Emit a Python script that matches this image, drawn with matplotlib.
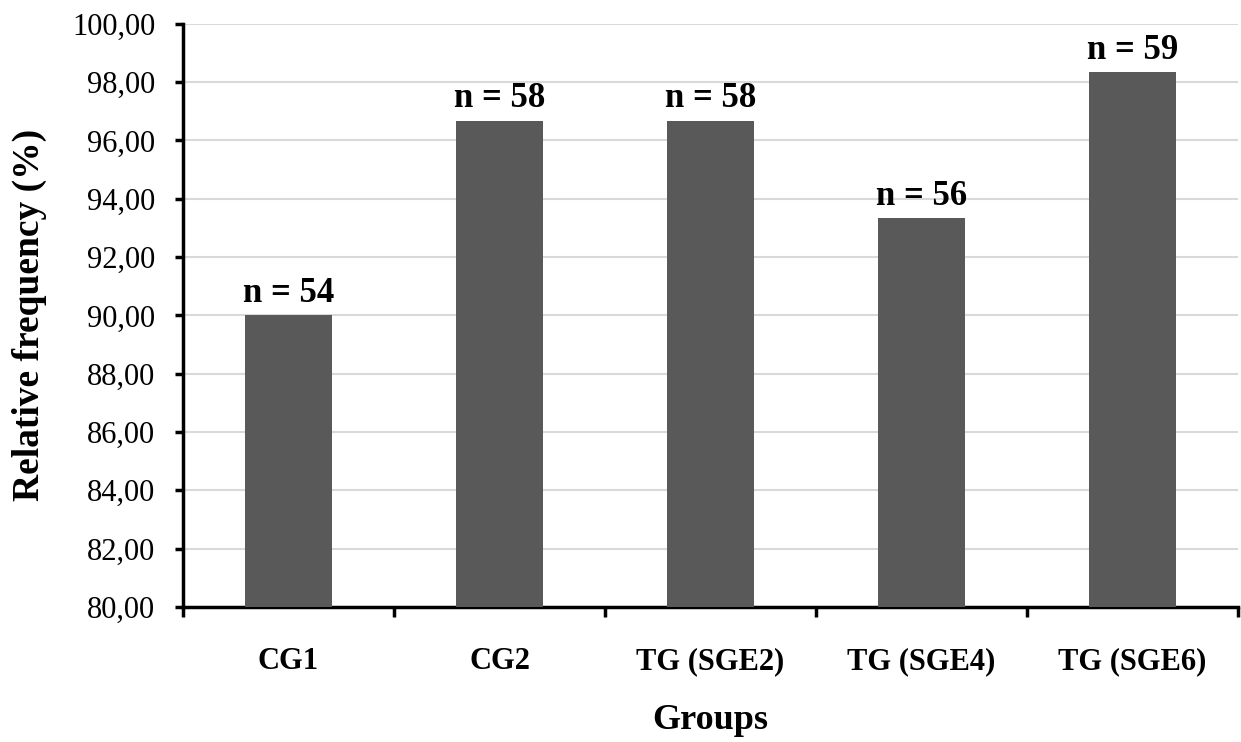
import matplotlib
matplotlib.use("Agg")
import matplotlib.pyplot as plt
import numpy as np

groups = ["CG1", "CG2", "TG (SGE2)", "TG (SGE4)", "TG (SGE6)"]
freq = [90.00, 96.67, 96.67, 93.33, 98.33]
counts = [54, 58, 58, 56, 59]
yticks = [80, 82, 84, 86, 88, 90, 92, 94, 96, 98, 100]

BAR_COLOR = "#595959"
GRID_COLOR = "#d9d9d9"

plt.rcParams["font.family"] = ["Liberation Serif", "DejaVu Serif"]

fig = plt.figure(figsize=(12.41, 7.42), dpi=100)
ax = fig.add_axes([0.1475, 0.182, 0.85, 0.786])

x = np.arange(len(groups))
ax.bar(x, freq, width=0.41, color=BAR_COLOR, zorder=3)
for xi, v, n in zip(x, freq, counts):
    ax.annotate(f"n = {n}", (xi, v), xytext=(0, 4), textcoords="offset points",
                ha="center", va="bottom", fontsize=25, fontweight="bold")

ax.set_ylim(80, 100)
ax.set_xlim(-0.5, len(groups) - 0.5)
ax.set_yticks(yticks)
ax.set_yticklabels([f"{t:.2f}".replace(".", ",") for t in yticks], fontsize=22)
ax.yaxis.grid(True, color=GRID_COLOR, linewidth=1.5, zorder=0)

# category boundaries get the tick marks, names sit in between
ax.set_xticks(np.arange(-0.5, len(groups)))
ax.set_xticklabels([])
ax.set_xticks(x, minor=True)
ax.set_xticklabels(groups, minor=True, fontsize=22, fontweight="bold")
ax.tick_params(axis="x", which="minor", length=0, pad=29)
ax.tick_params(axis="x", which="major", length=7, width=2.5, direction="out")
ax.tick_params(axis="y", length=6, width=2.5, direction="out", pad=14)

for side in ["top", "right"]:
    ax.spines[side].set_visible(False)
for side in ["left", "bottom"]:
    ax.spines[side].set_linewidth(2.5)

ax.set_ylabel("Relative frequency (%)", fontsize=27, fontweight="bold", labelpad=18)
ax.set_xlabel("Groups", fontsize=26, fontweight="bold", labelpad=20)

fig.savefig("out.png", dpi=100)
